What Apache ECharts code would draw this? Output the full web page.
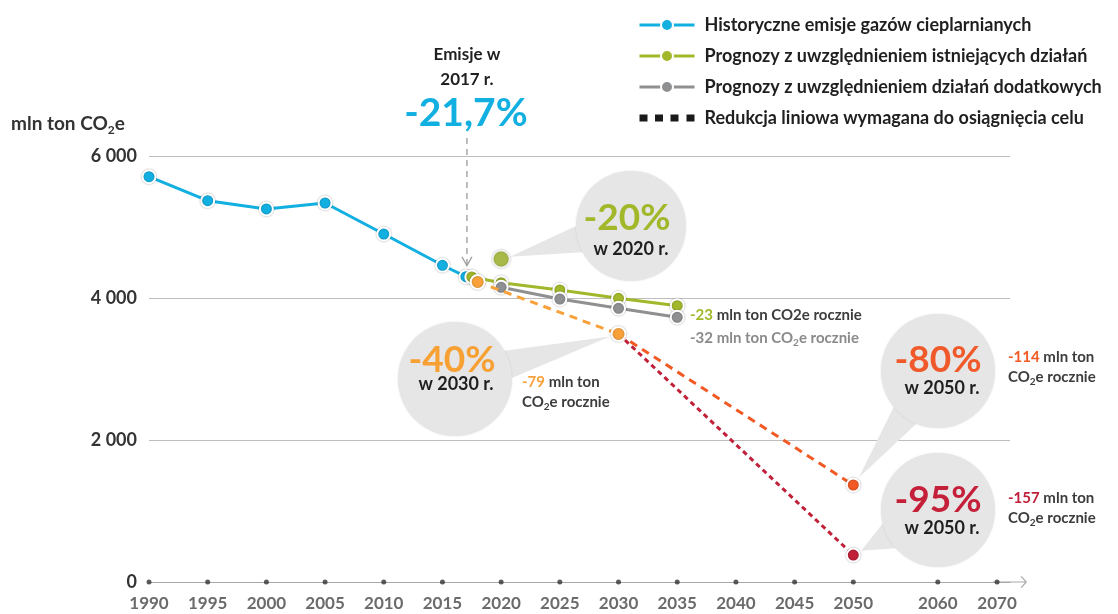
<!DOCTYPE html>
<html>
<head>
<meta charset="utf-8">
<script src="https://cdn.jsdelivr.net/npm/echarts@6/dist/echarts.min.js"></script>
<style>html,body{margin:0;padding:0;background:#fff}#c{width:1118px;height:614px}</style>
</head>
<body>
<div id="c"></div>
<script>
// ---------- DATA ----------
const tickYears = [1990,1995,2000,2005,2010,2015,2020,2025,2030,2035,2040,2045,2050,2060,2070];
const tickLabels = ['1990','1995','2000','2005','2010','2015','2020','2025','2030','2035','2040','2045','2050','2060','2070'];
const yTickValues = [0,2000,4000,6000];
const yTickLabels = ['0','2 000','4 000','6 000'];
const legendNames = [
  'Historyczne emisje gazów cieplarnianych',
  'Prognozy z uwzględnieniem istniejących działań',
  'Prognozy z uwzględnieniem działań dodatkowych',
  'Redukcja liniowa wymagana do osiągnięcia celu'
];
const histYears = [1990,1995,2000,2005,2010,2015,2017];
const histValues = [5708,5370,5254,5338,4901,4461,4300];
const wemYears = [2017.5,2020,2025,2030,2035];
const wemValues = [4296,4215,4113,3996,3892];
const wamYears = [2020,2025,2030,2035];
const wamValues = [4151,3986,3855,3728];
const target2020Years = [2020];
const target2020Values = [4549];
const path2030Years = [2018,2030];
const path2030Values = [4225,3493];
const path80Years = [2030,2050];
const path80Values = [3493,1366];
const path95Years = [2030,2050];
const path95Values = [3493,380];

// ---------- STYLE ----------
const FONT = 'Lato, "Open Sans", sans-serif';
const C = {
  blue:'#12afe1', green:'#a2b72a', grey:'#8f9092', orange:'#f8a13a',
  redOrange:'#f15a24', darkRed:'#c0203a', text:'#1f1f1f', sub:'#3d3d3d'
};
// non-uniform axis: 5-year steps up to 2050, then wider gap
function axisPos(year){
  const a=[1990,2050,2060,2070], p=[0,12,13.44,14.45];
  for(let i=0;i<a.length-1;i++){
    if(year<=a[i+1]) return p[i]+(year-a[i])/(a[i+1]-a[i])*(p[i+1]-p[i]);
  }
  return p[p.length-1];
}
const pts = (xs,vs)=>xs.map((x,i)=>[axisPos(x),vs[i]]);
const mk = (color,size)=>({symbol:'circle',symbolSize:size,
  itemStyle:{color:color,borderColor:'#fff',borderWidth:2,shadowColor:'rgba(0,0,0,0.3)',shadowBlur:2}});

const chart = echarts.init(document.getElementById('c'));
const arrowPath = 'path://M0,5.5 L6,0 L12,5.5 L11.2,6.3 L6,1.6 L0.8,6.3 Z M5.5,1 L6.5,1 L6.5,34 L5.5,34 Z';
const squaresIcon = 'path://M0,0h8v7h-8z M15.5,0h8v7h-8z M31,0h8v7h-8z M47,0h8v7h-8z';

chart.setOption({
  animation:false,
  backgroundColor:'#fff',
  grid:{left:149,right:108,top:156,bottom:32,containLabel:false,outerBoundsMode:'none'},
  legend:{
    data:[
      {name:legendNames[0]},{name:legendNames[1]},{name:legendNames[2]},
      {name:legendNames[3],icon:squaresIcon}
    ],
    orient:'vertical', left:633, top:11, itemWidth:55, itemHeight:15, itemGap:13,
    selectedMode:false,
    lineStyle:{width:3},
    textStyle:{fontFamily:FONT,fontWeight:'bold',fontSize:18,color:C.text,padding:[0,0,0,5]}
  },
  xAxis:{
    type:'value', min:0, max:14.67,
    splitLine:{show:false},
    axisTick:{show:false},
    axisLine:{show:true,onZero:false,lineStyle:{color:'#a8a8a8',width:1},symbol:['none',arrowPath],symbolSize:[12,34],symbolOffset:[0,0]},
    axisLabel:{
      customValues:tickYears.map(axisPos), hideOverlap:false, margin:13,
      fontFamily:FONT,fontWeight:'bold',fontSize:17,color:'#6b6b6b',
      formatter:function(v){
        for(let i=0;i<tickYears.length;i++){ if(Math.abs(axisPos(tickYears[i])-v)<1e-6) return tickLabels[i]; }
        return '';
      }
    }
  },
  yAxis:{
    type:'value', min:0, max:6000, interval:2000,
    axisLine:{show:false}, axisTick:{show:false},
    splitLine:{lineStyle:{color:'#bdbdbd',width:1.2}},
    axisLabel:{margin:12,fontFamily:FONT,fontWeight:'bold',fontSize:18,color:'#333',
      formatter:function(v){ const i=yTickValues.indexOf(v); return i>=0?yTickLabels[i]:''; }}
  },
  series:[
    Object.assign({name:legendNames[0],type:'line',data:pts(histYears,histValues),z:3,
      lineStyle:{color:C.blue,width:3}},mk(C.blue,13)),
    Object.assign({name:legendNames[1],type:'line',data:pts(wemYears,wemValues),z:4,
      lineStyle:{color:C.green,width:3}},mk(C.green,13)),
    Object.assign({name:legendNames[2],type:'line',data:pts(wamYears,wamValues),z:5,
      lineStyle:{color:C.grey,width:3}},mk(C.grey,13)),
    {name:legendNames[3],type:'line',data:[],symbol:'none',
      lineStyle:{color:'#1a1a1a',width:7,type:[8,7]},itemStyle:{color:'#1a1a1a'}},
    Object.assign({name:'cel95',type:'line',z:4,
      data:pts(path95Years,path95Values).map((p,i)=>i===0?{value:p,symbol:'none'}:{value:p}),
      lineStyle:{color:C.darkRed,width:3,type:[5,4]}},mk(C.darkRed,13)),
    Object.assign({name:'cel80',type:'line',z:4,
      data:pts(path80Years,path80Values).map((p,i)=>i===0?{value:p,symbol:'none'}:{value:p}),
      lineStyle:{color:C.redOrange,width:3,type:[8,6]}},mk(C.redOrange,13)),
    Object.assign({name:'cel2030',type:'line',z:6,data:pts(path2030Years,path2030Values),
      lineStyle:{color:C.orange,width:3,type:[8,6]}},mk(C.orange,14)),
    Object.assign({name:'cel2020',type:'scatter',z:6,data:pts(target2020Years,target2020Values)},mk(C.green,17)),
    {name:'ticks',type:'scatter',z:7,clip:false,silent:true,symbol:'circle',symbolSize:5,
      itemStyle:{color:'#333'},data:tickYears.map(y=>[axisPos(y),0])}
  ]
});

// ---------- ANNOTATIONS ----------
function px(year,v){ return chart.convertToPixel({gridIndex:0},[axisPos(year),v]); }
const G=[];
function txt(x,y,text,opts){
  G.push({type:'text',x:x,y:y,z:20,style:Object.assign({text:text,fontFamily:FONT,fontWeight:'bold',
    align:'center',verticalAlign:'middle'},opts||{})});
}
const mctx = document.createElement('canvas').getContext('2d');
// left-aligned run of text segments: [text, colour, size, dy]
function segText(x,y,segs){
  let cx=x;
  segs.forEach(sg=>{
    const t=sg[0], c=sg[1], s=sg[2], dy=sg[3]||0;
    mctx.font='bold '+s+'px '+FONT;
    G.push({type:'text',x:cx,y:y+dy,z:20,style:{text:t,fill:c,fontFamily:FONT,fontWeight:'bold',fontSize:s,align:'left',verticalAlign:'middle'}});
    cx+=mctx.measureText(t).width;
  });
}

// y axis title
segText(11,124,[['mln ton CO','#333',19],['2','#333',12,6],['e','#333',19]]);

// 2017 callout
const p17 = px(histYears[histYears.length-1],histValues[histValues.length-1]);
txt(p17[0]+1,55,'Emisje w',{fontSize:17,fill:C.text});
txt(p17[0]+1,80,'2017 r.',{fontSize:17,fill:C.text});
txt(p17[0],113,'-21,7%',{fontSize:39,fill:C.blue});
G.push({type:'line',z:20,shape:{x1:p17[0]+1,y1:138,x2:p17[0]+1,y2:p17[1]-11},style:{stroke:'#9a9a9a',lineWidth:1.3,lineDash:[6,5]}});
G.push({type:'polyline',z:20,shape:{points:[[p17[0]-4,p17[1]-20],[p17[0]+1,p17[1]-11],[p17[0]+6,p17[1]-20]]},style:{stroke:'#9a9a9a',lineWidth:1.3,fill:null}});

// bubbles
const bubbles = [
  {cx:631,cy:226,r:55,tip:px(target2020Years[0],target2020Values[0]),big:'-20%',color:C.green,sub:'w 2020 r.',bdx:-4,bdy:-8,sdx:0,sdy:23},
  {cx:455,cy:379,r:57,tip:px(path2030Years[1],path2030Values[1]),big:'-40%',color:'#f7a033',sub:'w 2030 r.',bdx:-3,bdy:-19,sdx:1,sdy:5},
  {cx:938,cy:371,r:57,tip:px(path80Years[1],path80Values[1]),big:'-80%',color:'#f0592a',sub:'w 2050 r.',bdx:0,bdy:-11,sdx:4,sdy:17},
  {cx:938,cy:510,r:57,tip:px(path95Years[1],path95Values[1]),big:'-95%',color:'#c5203a',sub:'w 2050 r.',bdx:0,bdy:-10,sdx:4,sdy:18}
];
bubbles.forEach(b=>{
  const dx=b.tip[0]-b.cx, dy=b.tip[1]-b.cy, d=Math.hypot(dx,dy), th=Math.atan2(dy,dx);
  const tx=b.tip[0]-dx/d*9, ty=b.tip[1]-dy/d*9;
  const s=0.25;
  G.push({type:'polygon',z:1,shape:{points:[[tx,ty],[b.cx+b.r*Math.cos(th+s),b.cy+b.r*Math.sin(th+s)],[b.cx+b.r*Math.cos(th-s),b.cy+b.r*Math.sin(th-s)]]},style:{fill:'#e6e6e6'}});
  G.push({type:'circle',z:1,shape:{cx:b.cx,cy:b.cy,r:b.r},style:{fill:'#e6e6e6',shadowColor:'rgba(0,0,0,0.12)',shadowBlur:2}});
  txt(b.cx+b.bdx,b.cy+b.bdy,b.big,{fontSize:37,fill:b.color});
  txt(b.cx+b.sdx,b.cy+b.sdy,b.sub,{fontSize:18,fill:C.text});
});

// side annotations
const co2 = (x,y,color)=>segText(x,y,[['CO',color,15],['2',color,10,5],['e rocznie',color,15]]);
segText(690,315,[['-23',C.green,15],[' mln ton CO2e rocznie',C.sub,15]]);
segText(690,338,[['-32 mln ton CO','#8a8a8a',15],['2','#8a8a8a',10,5],['e rocznie','#8a8a8a',15]]);
segText(522,382,[['-79',C.orange,15],[' mln ton',C.sub,15]]);
co2(522,402,C.sub);
segText(1008,357,[['-114',C.redOrange,15],[' mln ton',C.sub,15]]);
co2(1008,377,C.sub);
segText(1008,498,[['-157',C.darkRed,15],[' mln ton',C.sub,15]]);
co2(1008,518,C.sub);

chart.setOption({graphic:{elements:G}});
</script>
</body>
</html>
